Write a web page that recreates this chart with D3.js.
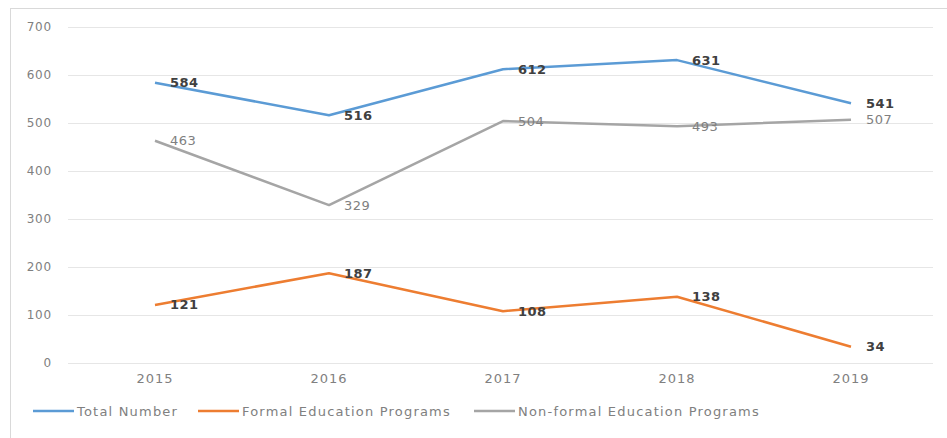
<!DOCTYPE html>
<html lang="en">
  <head>
    <meta charset="utf-8">
    <title>Education Programs 2015-2019</title>
    <script type="text/javascript" src="https://cdn.jsdelivr.net/npm/d3@7"></script>
    <style>
      body { margin: 0; background: #fff; }
      text { font-family: "DejaVu Sans", "Liberation Sans", sans-serif; }
    </style>
  </head>
  <body>
    <script type="text/javascript">
      var width = 947;
      var height = 438;

      var years = ["2015", "2016", "2017", "2018", "2019"];
      var totalNumber = [584, 516, 612, 631, 541];
      var formalPrograms = [121, 187, 108, 138, 34];
      var nonFormalPrograms = [463, 329, 504, 493, 507];
      var yTicks = [0, 100, 200, 300, 400, 500, 600, 700];

      var series = [
        { name: "Total Number", values: totalNumber, color: "#5b9bd5", bold: true, labelColor: "#404040" },
        { name: "Formal Education Programs", values: formalPrograms, color: "#ed7d31", bold: true, labelColor: "#404040" },
        { name: "Non-formal Education Programs", values: nonFormalPrograms, color: "#a5a5a5", bold: false, labelColor: "#808080" }
      ];

      var plot = { left: 68, right: 938, top: 27, bottom: 363 };

      var xScale = d3.scaleBand()
                     .domain(years)
                     .range([plot.left, plot.right]);
      var yScale = d3.scaleLinear()
                     .domain([0, 700])
                     .range([plot.bottom, plot.top]);

      var svg = d3.select("body")
                  .append("svg")
                  .attr("width", width)
                  .attr("height", height);

      // chart frame (only top and left edges show)
      svg.append("rect")
         .attr("x", 10.5)
         .attr("y", 8.5)
         .attr("width", width + 20)
         .attr("height", height + 20)
         .attr("fill", "none")
         .attr("stroke", "#d9d9d9");

      // gridlines
      svg.append("g")
         .selectAll("line")
         .data(yTicks)
         .enter()
         .append("line")
         .attr("x1", plot.left)
         .attr("x2", plot.right - 5)
         .attr("y1", function(d) { return Math.round(yScale(d)) + 0.5; })
         .attr("y2", function(d) { return Math.round(yScale(d)) + 0.5; })
         .attr("stroke", "#e6e6e6");

      // y axis labels
      var yAxis = d3.axisLeft(yScale).tickValues(yTicks).tickSize(0).tickPadding(0);
      var yg = svg.append("g")
         .attr("transform", "translate(" + (plot.left - 16) + ",0)")
         .call(yAxis);
      yg.select(".domain").remove();
      yg.selectAll("text")
        .attr("fill", "#808080")
        .attr("font-size", "12px")
        .style("letter-spacing", "0.8px")
        .style("font-family", "'DejaVu Sans', sans-serif");

      // x axis labels
      var xAxis = d3.axisBottom(xScale).tickSize(0).tickPadding(0);
      var xg = svg.append("g")
         .attr("transform", "translate(0," + (plot.bottom + 11) + ")")
         .call(xAxis);
      xg.select(".domain").remove();
      xg.selectAll("text")
        .attr("fill", "#808080")
        .attr("font-size", "13px")
        .style("letter-spacing", "1px")
        .style("font-family", "'DejaVu Sans', sans-serif");

      var cx = function(d, i) { return xScale(years[i]) + xScale.bandwidth() / 2; };

      var line = d3.line()
                   .x(function(d, i) { return cx(d, i); })
                   .y(function(d) { return yScale(d); });

      series.forEach(function(s) {
        svg.append("path")
           .datum(s.values)
           .attr("d", line)
           .attr("fill", "none")
           .attr("stroke", s.color)
           .attr("stroke-width", 2.5)
           .attr("stroke-linejoin", "round");

        svg.append("g")
           .selectAll("text")
           .data(s.values)
           .enter()
           .append("text")
           .text(function(d) { return d; })
           .attr("x", function(d, i) { return cx(d, i) + 15; })
           .attr("y", function(d) { return yScale(d); })
           .attr("dy", "0.35em")
           .attr("font-size", "13px")
           .style("letter-spacing", "0.5px")
           .attr("font-weight", s.bold ? "bold" : "normal")
           .attr("fill", s.labelColor);
      });

      // legend
      var legendX = [33, 198, 474];
      var legend = svg.append("g")
                      .selectAll("g")
                      .data(series)
                      .enter()
                      .append("g")
                      .attr("transform", function(d, i) { return "translate(" + legendX[i] + ",411)"; });
      legend.append("line")
            .attr("x1", 0)
            .attr("x2", 41)
            .attr("stroke", function(d) { return d.color; })
            .attr("stroke-width", 2.5);
      legend.append("text")
            .text(function(d) { return d.name; })
            .attr("x", 44)
            .attr("dy", "0.35em")
            .attr("font-size", "13px")
            .style("letter-spacing", "1.2px")
            .attr("fill", "#808080");
    </script>
  </body>
</html>
